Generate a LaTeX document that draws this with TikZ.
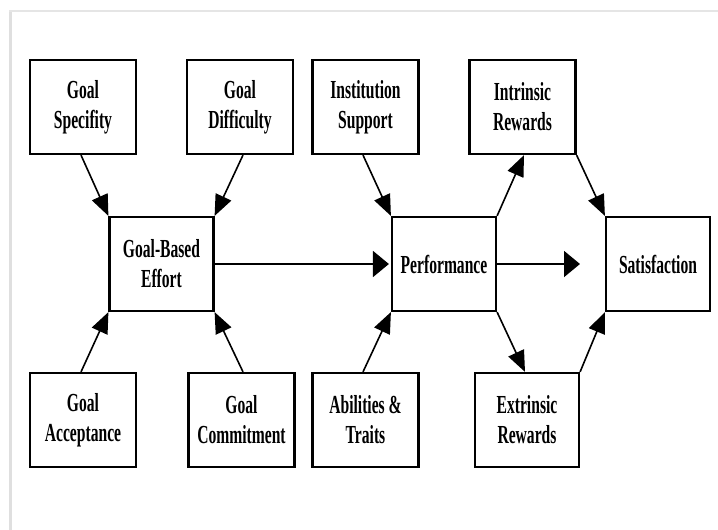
\documentclass[tikz,border=0pt]{standalone}
\usepackage{fontspec}
\newfontfamily\boxfont{Liberation Serif}[FakeStretch=0.6]
\usetikzlibrary{arrows.meta}
\tikzset{
  box/.style={draw=black, line width=2.2pt, minimum width=106pt, minimum height=94pt,
    inner sep=0pt, align=center, font=\boxfont\bfseries\fontsize{26}{30}\selectfont},
  diag/.style={line width=1.6pt, -{Triangle[length=21pt,width=17pt]}},
  horiz/.style={line width=1.8pt, -{Triangle[length=16pt,width=26pt]}}
}
\begin{document}
\begin{tikzpicture}[x=1pt,y=-1pt]
\useasboundingbox (0,0) rectangle (718,530);
\draw[gray!25, line width=3pt] (10.5,11) -- (10.5,530);
\draw[gray!20, line width=1.5pt] (9,11) -- (718,11);

\node[box] (spec) at (83,107) {Goal\\Specifity};
\node[box] (diff) at (240,107) {Goal\\Difficulty};
\node[box] (inst) at (365.5,107) {Institution\\Support};
\node[box] (intr) at (522.5,107) {Intrinsic\\Rewards};
\node[box, minimum width=104pt] (gbe) at (161.5,264) {Goal-Based\\Effort};
\node[box, minimum width=104pt] (perf) at (444,264) {Performance};
\node[box, minimum width=104pt] (sat) at (658,264) {Satisfaction};
\node[box] (acc) at (83,420) {Goal\\Acceptance};
\node[box] (comm) at (241.5,420) {Goal\\Commitment};
\node[box] (abil) at (365.5,420) {Abilities \&\\Traits};
\node[box, minimum width=104pt] (extr) at (527,420) {Extrinsic\\Rewards};
\coordinate (end) at (580,264);

\draw[diag] ([xshift=-2pt]spec.south) -- (gbe.north west);
\draw[diag] ([xshift=3pt]diff.south) -- (gbe.north east);
\draw[diag] ([xshift=-2pt]acc.north) -- (gbe.south west);
\draw[diag] ([xshift=1.5pt]comm.north) -- (gbe.south east);
\draw[diag] ([xshift=-2.5pt]inst.south) -- (perf.north west);
\draw[diag] ([xshift=-2.5pt]abil.north) -- (perf.south west);
\draw[diag] (perf.north east) -- ([xshift=1.5pt]intr.south);
\draw[diag] (perf.south east) -- ([xshift=-2pt]extr.north);
\draw[diag] (intr.south east) -- (sat.north west);
\draw[diag] (extr.north east) -- (sat.south west);
\draw[horiz, shorten >=2pt] (gbe.east) -- (perf.west);
\draw[horiz] (perf.east) -- (end);
\end{tikzpicture}
\end{document}
